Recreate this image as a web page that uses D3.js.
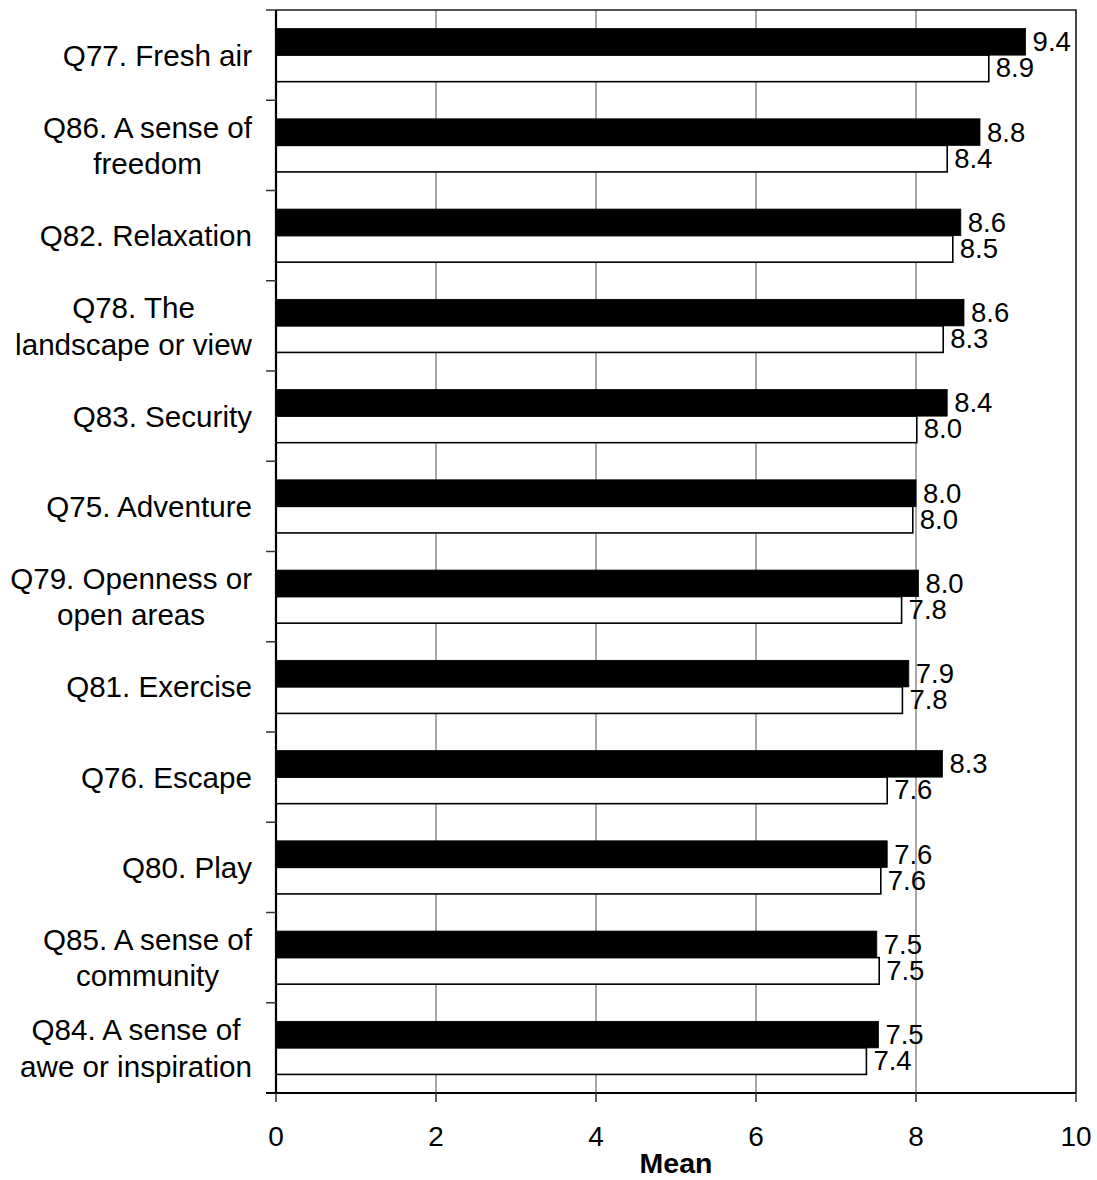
<!DOCTYPE html>
<html>
<head>
<meta charset="utf-8">
<script src="https://cdn.jsdelivr.net/npm/d3@7"></script>
<style>
  html, body { margin: 0; padding: 0; background: #fff; }
  svg { display: block; }
  text { font-family: "Liberation Sans", Arial, Helvetica, sans-serif; fill: #000; }
</style>
</head>
<body>
<svg id="chart" width="1097" height="1180"></svg>
<script>
// ---- data ----
const categories = [
  ["Q77. Fresh air"],
  ["Q86. A sense of", "freedom"],
  ["Q82. Relaxation"],
  ["Q78. The", "landscape or view"],
  ["Q83. Security"],
  ["Q75. Adventure"],
  ["Q79. Openness or", "open areas"],
  ["Q81. Exercise"],
  ["Q76. Escape"],
  ["Q80. Play"],
  ["Q85. A sense of", "community"],
  ["Q84. A sense of", "awe or inspiration"]
];
const seriesNames = ["Series A", "Series B"];
const seriesA = [9.37, 8.80, 8.56, 8.60, 8.39, 8.00, 8.03, 7.91, 8.33, 7.64, 7.51, 7.53];
const seriesB = [8.91, 8.39, 8.46, 8.34, 8.01, 7.96, 7.82, 7.83, 7.64, 7.56, 7.54, 7.38];
const xTicks = [0, 2, 4, 6, 8, 10];
const xTitle = "Mean";

// ---- layout ----
const svg = d3.select("#chart");
const pL = 276, pR = 1076, pT = 10, pB = 1093;

const catKeys = categories.map(c => c.join(" "));
const x = d3.scaleLinear().domain([0, 10]).range([pL, pR]);
const y = d3.scaleBand().domain(catKeys).range([pT, pB]).padding(0);
const ySub = d3.scaleBand().domain(seriesNames).range([0, y.bandwidth()])
  .paddingInner(0).paddingOuter(0.7);

const fills = ["#000", "#fff"];

// gridlines
svg.append("g")
  .selectAll("line")
  .data(xTicks.filter(t => t > 0 && t < 10))
  .join("line")
  .attr("x1", d => x(d)).attr("x2", d => x(d))
  .attr("y1", pT).attr("y2", pB)
  .attr("stroke", "#6e6e6e").attr("stroke-width", 1.2);

// frame top & right
svg.append("path")
  .attr("d", `M${pL},${pT}H${pR}V${pB}`)
  .attr("fill", "none").attr("stroke", "#1a1a1a").attr("stroke-width", 1.6);

// bars
const rows = catKeys.map((k, i) => ({ key: k, vals: [seriesA[i], seriesB[i]] }));
const g = svg.append("g");
rows.forEach(r => {
  r.vals.forEach((v, si) => {
    const by = y(r.key) + ySub(seriesNames[si]);
    g.append("rect")
      .attr("x", x(0)).attr("y", by)
      .attr("width", x(v) - x(0)).attr("height", ySub.bandwidth())
      .attr("fill", fills[si])
      .attr("stroke", "#000").attr("stroke-width", si === 0 ? 0.8 : 1.6);
  });
});

// value labels
const fmt = d3.format(".1f");
rows.forEach(r => {
  r.vals.forEach((v, si) => {
    const by = y(r.key) + ySub(seriesNames[si]) + ySub.bandwidth() / 2;
    svg.append("text")
      .attr("x", x(v) + 7).attr("y", by)
      .attr("dy", si === 0 ? 9.5 : 9)
      .attr("font-size", 27.5)
      .text(fmt(v));
  });
});

// left axis line
svg.append("line")
  .attr("x1", pL).attr("x2", pL).attr("y1", pT).attr("y2", pB)
  .attr("stroke", "#000").attr("stroke-width", 2.2);

// left ticks at band boundaries
const bounds = catKeys.map(k => y(k)).concat([pB]);
svg.append("g").selectAll("line").data(bounds).join("line")
  .attr("x1", pL - 10).attr("x2", pL)
  .attr("y1", d => d).attr("y2", d => d)
  .attr("stroke", "#333").attr("stroke-width", 1.5);

// bottom axis
svg.append("line")
  .attr("x1", pL - 10).attr("x2", pR).attr("y1", pB).attr("y2", pB)
  .attr("stroke", "#000").attr("stroke-width", 2.2);
svg.append("g").selectAll("line").data(xTicks).join("line")
  .attr("x1", d => x(d)).attr("x2", d => x(d))
  .attr("y1", pB).attr("y2", pB + 9)
  .attr("stroke", "#333").attr("stroke-width", 1.5);
svg.append("g").selectAll("text").data(xTicks).join("text")
  .attr("x", d => x(d)).attr("y", 1146)
  .attr("text-anchor", "middle").attr("font-size", 28)
  .text(d => d);

svg.append("text")
  .attr("x", (pL + pR) / 2).attr("y", 1173)
  .attr("text-anchor", "middle").attr("font-size", 28.5).attr("font-weight", "bold")
  .text(xTitle);

// category labels (centered block, right-aligned to axis)
const labelRight = 252, lineH = 36.6, catFont = 29.6;
categories.forEach((lines, i) => {
  const cy = y(catKeys[i]) + y.bandwidth() / 2;
  const t = svg.append("text")
    .attr("text-anchor", "middle").attr("font-size", catFont);
  const spans = lines.map((ln, j) =>
    t.append("tspan")
      .attr("y", cy + 10.5 + (j - (lines.length - 1) / 2) * lineH)
      .text(ln));
  let maxW = 0;
  spans.forEach(s => { maxW = Math.max(maxW, s.node().getComputedTextLength()); });
  spans.forEach(s => s.attr("x", labelRight - maxW / 2));
});
</script>
</body>
</html>
